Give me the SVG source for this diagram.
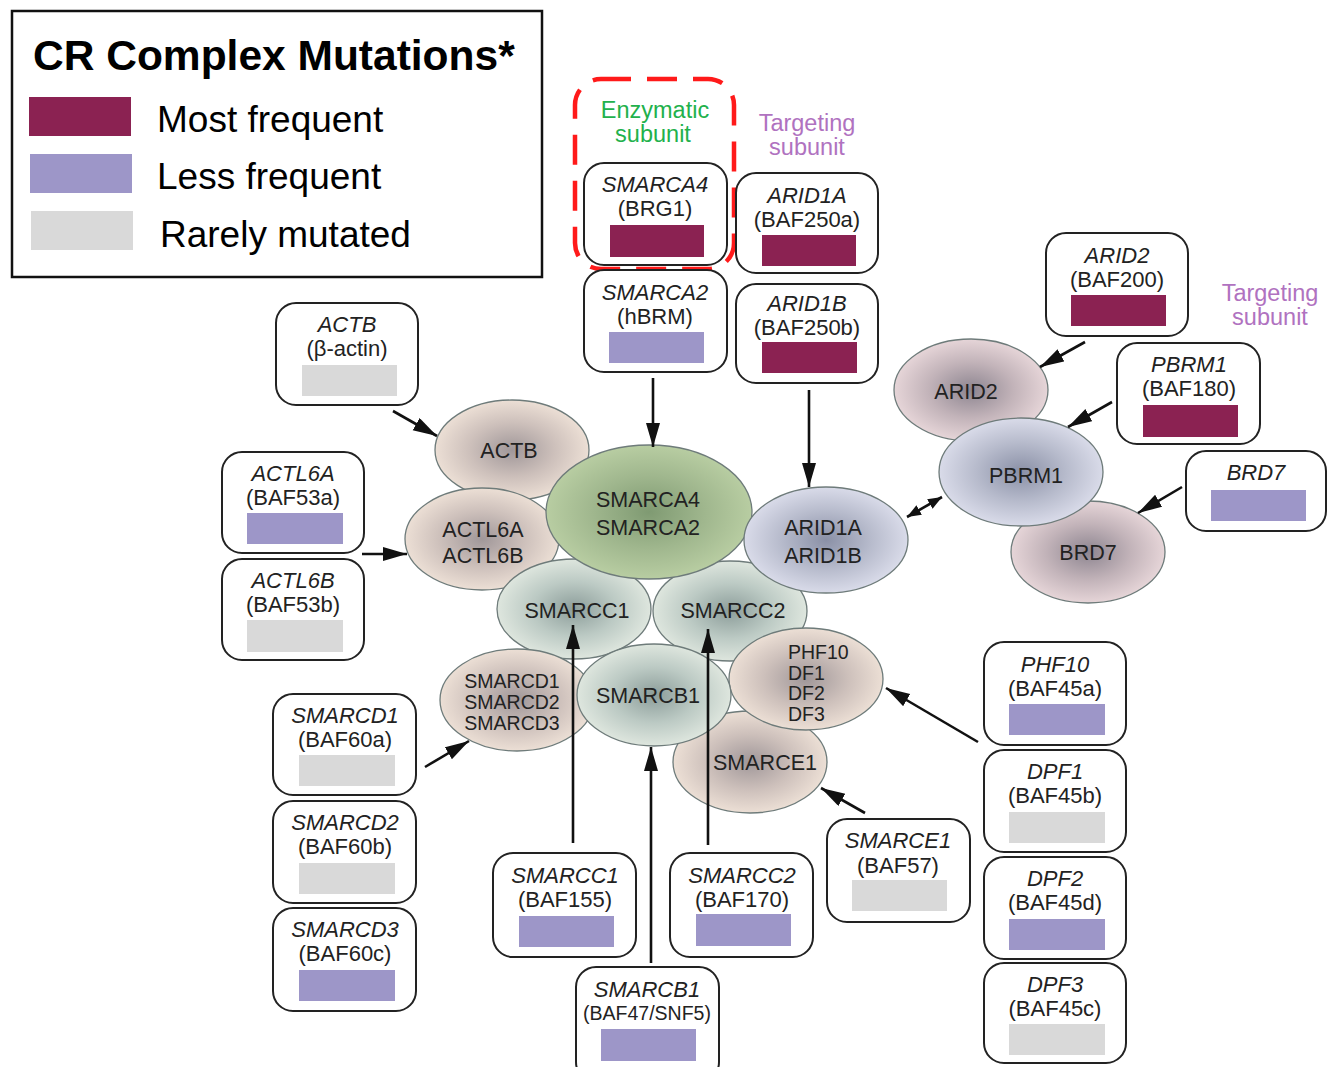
<svg xmlns="http://www.w3.org/2000/svg" width="1327" height="1067" viewBox="0 0 1327 1067">
<defs>
<style>
.bx{fill:#fff;stroke:#222;stroke-width:2}
.gn{font-family:"Liberation Sans",Arial,sans-serif;font-size:22px;font-style:italic;fill:#222;text-anchor:middle}
.pr{font-family:"Liberation Sans",Arial,sans-serif;font-size:22px;fill:#222;text-anchor:middle}
.el{stroke:#6e7b7a;stroke-width:1.3}
.et{font-family:"Liberation Sans",Arial,sans-serif;font-size:21.5px;fill:#222;text-anchor:middle}
.es{font-family:"Liberation Sans",Arial,sans-serif;font-size:19.5px;fill:#222}
.hi{fill:#8b2252}
.lo{fill:#9d96c8}
.ra{fill:#d9d9d9}
.ar{stroke:#111;stroke-width:2.6;fill:none}
.lg{font-family:"Liberation Sans",Arial,sans-serif;font-size:37px;fill:#000}
.sub{font-family:"Liberation Sans",Arial,sans-serif;font-size:23.5px;text-anchor:middle}
</style>
<radialGradient id="gBeige"><stop offset="0" stop-color="#a09799"/><stop offset="0.55" stop-color="#cdc0bb"/><stop offset="1" stop-color="#ecdfd5"/></radialGradient>
<radialGradient id="gPink"><stop offset="0" stop-color="#8d8590"/><stop offset="0.55" stop-color="#c2b3b9"/><stop offset="1" stop-color="#e6d5d8"/></radialGradient>
<radialGradient id="gGreen"><stop offset="0" stop-color="#7f9a72"/><stop offset="0.55" stop-color="#a0b78e"/><stop offset="1" stop-color="#b8cda2"/></radialGradient>
<radialGradient id="gBlue"><stop offset="0" stop-color="#8a90a6"/><stop offset="0.55" stop-color="#b7bbcc"/><stop offset="1" stop-color="#d9dbe9"/></radialGradient>
<radialGradient id="gGray"><stop offset="0" stop-color="#8c9d9a"/><stop offset="0.55" stop-color="#bccac4"/><stop offset="1" stop-color="#dee6de"/></radialGradient>
<marker id="ah" markerUnits="userSpaceOnUse" markerWidth="26" markerHeight="16" refX="24" refY="7" orient="auto"><path d="M0,0 L24,7 L0,14 z" fill="#111"/></marker>
<marker id="ahs" markerUnits="userSpaceOnUse" markerWidth="16" markerHeight="12" refX="14" refY="5.5" orient="auto-start-reverse"><path d="M0,0 L14,5.5 L0,11 z" fill="#111"/></marker>
</defs>
<rect width="1327" height="1067" fill="#fff"/>

<g id="legend">
<rect x="12" y="11" width="530" height="266" fill="#fff" stroke="#111" stroke-width="2.5"/>
<text x="33" y="70" font-family="'Liberation Sans',Arial,sans-serif" font-size="42.5" font-weight="bold" fill="#000">CR Complex Mutations*</text>
<rect x="29" y="97" width="102" height="39" class="hi"/>
<rect x="30" y="154" width="102" height="39" class="lo"/>
<rect x="31" y="211" width="102" height="39" class="ra"/>
<text x="157" y="132" class="lg">Most frequent</text>
<text x="157" y="189" class="lg">Less frequent</text>
<text x="160" y="247" class="lg">Rarely mutated</text>
</g>

<g id="labels">
<rect x="575" y="79" width="159" height="190" rx="26" fill="none" stroke="#ff1a1a" stroke-width="4.5" stroke-dasharray="30 16"/>
<text x="655" y="118" class="sub" fill="#22b14c">Enzymatic</text>
<text x="653" y="142" class="sub" fill="#22b14c">subunit</text>
<text x="807" y="131" class="sub" fill="#b072c0">Targeting</text>
<text x="807" y="155" class="sub" fill="#b072c0">subunit</text>
<text x="1270" y="301" class="sub" fill="#b072c0">Targeting</text>
<text x="1270" y="325" class="sub" fill="#b072c0">subunit</text>
</g>

<g id="ellipses">
<g id="e-actb"><ellipse cx="512" cy="450" rx="77" ry="50" class="el" fill="url(#gBeige)"/><text x="509" y="458" class="et">ACTB</text></g>
<g id="e-actl6"><ellipse cx="482" cy="539" rx="77" ry="51" class="el" fill="url(#gBeige)"/><text x="483" y="537" class="et">ACTL6A</text><text x="483" y="563" class="et">ACTL6B</text></g>
<g id="e-smarcc1"><ellipse cx="574" cy="609" rx="77" ry="50" class="el" fill="url(#gGray)"/><text x="577" y="618" class="et">SMARCC1</text></g>
<g id="e-smarcc2"><ellipse cx="730" cy="611" rx="77" ry="50" class="el" fill="url(#gGray)"/><text x="733" y="618" class="et">SMARCC2</text></g>
<g id="e-smarca"><ellipse cx="649" cy="512" rx="103" ry="67" class="el" fill="url(#gGreen)"/><text x="648" y="507" class="et">SMARCA4</text><text x="648" y="535" class="et">SMARCA2</text></g>
<g id="e-arid1"><ellipse cx="826" cy="540" rx="82" ry="53" class="el" fill="url(#gBlue)"/><text x="823" y="535" class="et">ARID1A</text><text x="823" y="563" class="et">ARID1B</text></g>
<g id="e-smarcd"><ellipse cx="517" cy="700" rx="77" ry="51" class="el" fill="url(#gBeige)"/><text x="512" y="688" class="es" text-anchor="middle">SMARCD1</text><text x="512" y="709" class="es" text-anchor="middle">SMARCD2</text><text x="512" y="730" class="es" text-anchor="middle">SMARCD3</text></g>
<g id="e-smarce1"><ellipse cx="750" cy="762" rx="77" ry="51" class="el" fill="url(#gBeige)"/><text x="765" y="770" class="et">SMARCE1</text></g>
<g id="e-phf10"><ellipse cx="806" cy="679" rx="77" ry="51" class="el" fill="url(#gBeige)"/><text x="788" y="659" class="es">PHF10</text><text x="788" y="680" class="es">DF1</text><text x="788" y="700" class="es">DF2</text><text x="788" y="721" class="es">DF3</text></g>
<g id="e-smarcb1"><ellipse cx="654" cy="695" rx="77" ry="51" class="el" fill="url(#gGray)"/><text x="648" y="703" class="et">SMARCB1</text></g>
<g id="e-arid2"><ellipse cx="971" cy="390" rx="77" ry="51" class="el" fill="url(#gPink)"/><text x="966" y="399" class="et">ARID2</text></g>
<g id="e-brd7"><ellipse cx="1088" cy="552" rx="77" ry="51" class="el" fill="url(#gPink)"/><text x="1088" y="560" class="et">BRD7</text></g>
<g id="e-pbrm1"><ellipse cx="1021" cy="472" rx="82" ry="54" class="el" fill="url(#gBlue)"/><text x="1026" y="483" class="et">PBRM1</text></g>
</g>

<g id="connectors">
<line x1="653" y1="378" x2="653" y2="447" class="ar" marker-end="url(#ah)"/>
<line x1="809" y1="390" x2="809" y2="487" class="ar" marker-end="url(#ah)"/>
<line x1="393" y1="411" x2="437" y2="436" class="ar" marker-end="url(#ah)"/>
<line x1="362" y1="554" x2="407" y2="554" class="ar" marker-end="url(#ah)"/>
<line x1="425" y1="767" x2="469" y2="741" class="ar" marker-end="url(#ah)"/>
<line x1="573" y1="843" x2="573" y2="625" class="ar" marker-end="url(#ah)"/>
<line x1="651" y1="963" x2="651" y2="747" class="ar" marker-end="url(#ah)"/>
<line x1="708" y1="845" x2="708" y2="629" class="ar" marker-end="url(#ah)"/>
<line x1="865" y1="813" x2="821" y2="788" class="ar" marker-end="url(#ah)"/>
<line x1="978" y1="742" x2="886" y2="688" class="ar" marker-end="url(#ah)"/>
<line x1="907" y1="517" x2="942" y2="497" class="ar" marker-start="url(#ahs)" marker-end="url(#ahs)"/>
<line x1="1085" y1="342" x2="1040" y2="367" class="ar" marker-end="url(#ah)"/>
<line x1="1112" y1="402" x2="1068" y2="427" class="ar" marker-end="url(#ah)"/>
<line x1="1182" y1="487" x2="1138" y2="513" class="ar" marker-end="url(#ah)"/>
</g>

<g id="n-smarca4"><rect x="584" y="163" width="143" height="102" rx="20" class="bx"/><text x="655" y="192" class="gn">SMARCA4</text><text x="655" y="216" class="pr">(BRG1)</text><rect x="610" y="225" width="94" height="32" class="hi"/></g>
<g id="n-smarca2"><rect x="584" y="270" width="143" height="102" rx="20" class="bx"/><text x="655" y="300" class="gn">SMARCA2</text><text x="655" y="324" class="pr">(hBRM)</text><rect x="609" y="332" width="95" height="31" class="lo"/></g>
<g id="n-arid1a"><rect x="736" y="173" width="142" height="100" rx="20" class="bx"/><text x="807" y="203" class="gn">ARID1A</text><text x="807" y="227" class="pr">(BAF250a)</text><rect x="762" y="235" width="94" height="31" class="hi"/></g>
<g id="n-arid1b"><rect x="736" y="284" width="142" height="99" rx="20" class="bx"/><text x="807" y="311" class="gn">ARID1B</text><text x="807" y="335" class="pr">(BAF250b)</text><rect x="762" y="342" width="95" height="31" class="hi"/></g>
<g id="n-actb"><rect x="276" y="303" width="142" height="102" rx="20" class="bx"/><text x="347" y="332" class="gn">ACTB</text><text x="347" y="356" class="pr">(β-actin)</text><rect x="302" y="365" width="95" height="31" class="ra"/></g>
<g id="n-actl6a"><rect x="222" y="452" width="142" height="101" rx="20" class="bx"/><text x="293" y="481" class="gn">ACTL6A</text><text x="293" y="505" class="pr">(BAF53a)</text><rect x="247" y="513" width="96" height="31" class="lo"/></g>
<g id="n-actl6b"><rect x="222" y="559" width="142" height="101" rx="20" class="bx"/><text x="293" y="588" class="gn">ACTL6B</text><text x="293" y="612" class="pr">(BAF53b)</text><rect x="247" y="620" width="96" height="32" class="ra"/></g>
<g id="n-smarcd1"><rect x="273" y="694" width="143" height="101" rx="20" class="bx"/><text x="345" y="723" class="gn">SMARCD1</text><text x="345" y="747" class="pr">(BAF60a)</text><rect x="299" y="755" width="96" height="31" class="ra"/></g>
<g id="n-smarcd2"><rect x="273" y="801" width="143" height="102" rx="20" class="bx"/><text x="345" y="830" class="gn">SMARCD2</text><text x="345" y="854" class="pr">(BAF60b)</text><rect x="299" y="863" width="96" height="31" class="ra"/></g>
<g id="n-smarcd3"><rect x="273" y="908" width="143" height="103" rx="20" class="bx"/><text x="345" y="937" class="gn">SMARCD3</text><text x="345" y="961" class="pr">(BAF60c)</text><rect x="299" y="970" width="96" height="31" class="lo"/></g>
<g id="n-smarcc1"><rect x="493" y="853" width="143" height="104" rx="20" class="bx"/><text x="565" y="883" class="gn">SMARCC1</text><text x="565" y="907" class="pr">(BAF155)</text><rect x="519" y="916" width="95" height="31" class="lo"/></g>
<g id="n-smarcc2"><rect x="670" y="853" width="143" height="104" rx="20" class="bx"/><text x="742" y="883" class="gn">SMARCC2</text><text x="742" y="907" class="pr">(BAF170)</text><rect x="696" y="914" width="95" height="32" class="lo"/></g>
<g id="n-smarcb1"><rect x="576" y="967" width="143" height="115" rx="20" class="bx"/><text x="647" y="997" class="gn">SMARCB1</text><text x="647" y="1020" class="pr" style="font-size:19.5px">(BAF47/SNF5)</text><rect x="601" y="1029" width="95" height="32" class="lo"/></g>
<g id="n-smarce1"><rect x="827" y="819" width="143" height="103" rx="20" class="bx"/><text x="898" y="848" class="gn">SMARCE1</text><text x="898" y="873" class="pr">(BAF57)</text><rect x="852" y="880" width="95" height="31" class="ra"/></g>
<g id="n-phf10"><rect x="984" y="642" width="142" height="103" rx="20" class="bx"/><text x="1055" y="672" class="gn">PHF10</text><text x="1055" y="696" class="pr">(BAF45a)</text><rect x="1009" y="704" width="96" height="31" class="lo"/></g>
<g id="n-dpf1"><rect x="984" y="750" width="142" height="102" rx="20" class="bx"/><text x="1055" y="779" class="gn">DPF1</text><text x="1055" y="803" class="pr">(BAF45b)</text><rect x="1009" y="812" width="96" height="31" class="ra"/></g>
<g id="n-dpf2"><rect x="984" y="857" width="142" height="102" rx="20" class="bx"/><text x="1055" y="886" class="gn">DPF2</text><text x="1055" y="910" class="pr">(BAF45d)</text><rect x="1009" y="919" width="96" height="31" class="lo"/></g>
<g id="n-dpf3"><rect x="984" y="963" width="142" height="100" rx="20" class="bx"/><text x="1055" y="992" class="gn">DPF3</text><text x="1055" y="1016" class="pr">(BAF45c)</text><rect x="1009" y="1024" width="96" height="31" class="ra"/></g>
<g id="n-arid2"><rect x="1046" y="233" width="142" height="103" rx="20" class="bx"/><text x="1117" y="263" class="gn">ARID2</text><text x="1117" y="287" class="pr">(BAF200)</text><rect x="1071" y="295" width="95" height="31" class="hi"/></g>
<g id="n-pbrm1"><rect x="1117" y="343" width="143" height="101" rx="20" class="bx"/><text x="1189" y="372" class="gn">PBRM1</text><text x="1189" y="396" class="pr">(BAF180)</text><rect x="1143" y="405" width="95" height="32" class="hi"/></g>
<g id="n-brd7"><rect x="1186" y="451" width="140" height="80" rx="20" class="bx"/><text x="1256" y="480" class="gn">BRD7</text><rect x="1211" y="490" width="95" height="31" class="lo"/></g>
</svg>
